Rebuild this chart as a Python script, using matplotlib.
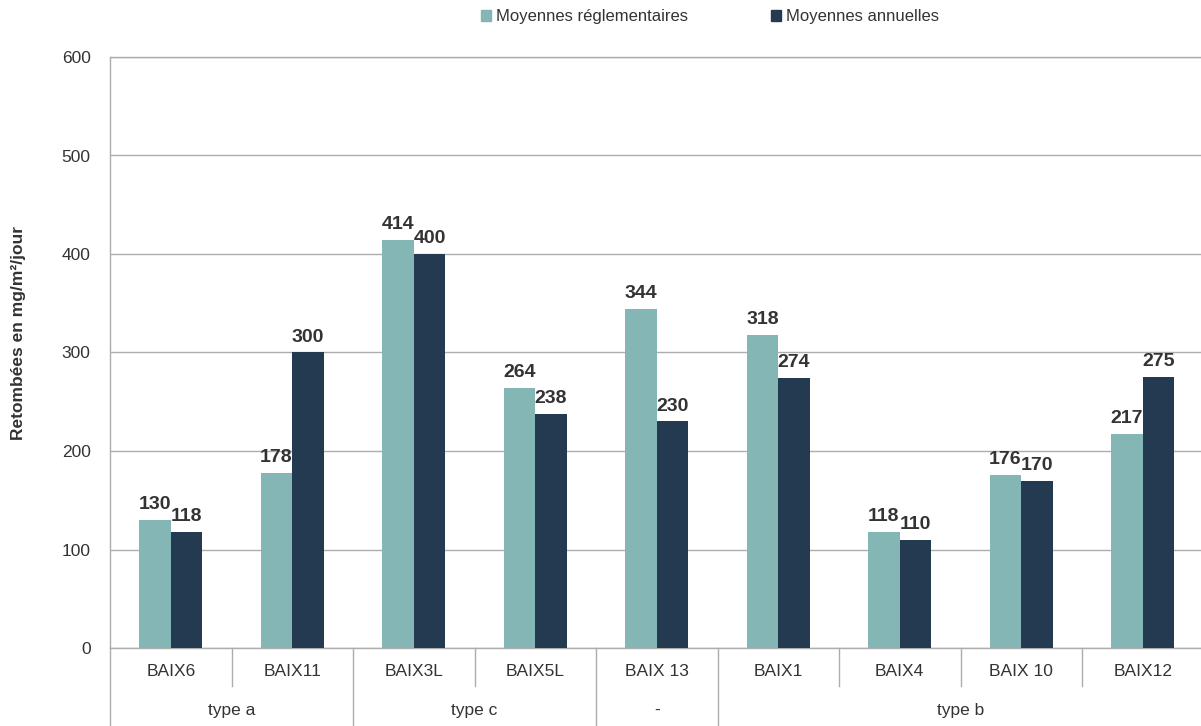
import matplotlib
matplotlib.use("Agg")
import matplotlib.pyplot as plt
import numpy as np
from matplotlib.patches import Patch

stations = ["BAIX6", "BAIX11", "BAIX3L", "BAIX5L", "BAIX 13", "BAIX1", "BAIX4", "BAIX 10", "BAIX12"]
groups = ["type a", "type c", "-", "type b"]
group_sizes = [2, 2, 1, 4]
moy_reg = [130, 178, 414, 264, 344, 318, 118, 176, 217]
moy_ann = [118, 300, 400, 238, 230, 274, 110, 170, 275]
series_names = ["Moyennes réglementaires", "Moyennes annuelles"]
yticks = [0, 100, 200, 300, 400, 500, 600]

c_reg = "#84B6B6"
c_ann = "#243A50"
grid_c = "#ADADAD"
txt_c = "#333333"

plt.rcParams['font.family'] = ['Liberation Sans', 'DejaVu Sans']

fig = plt.figure(figsize=(12.01, 7.26), dpi=100)
ax = fig.add_axes([110/1201, 1-648/726, 1093.5/1201, 591/726])

x = np.arange(len(stations))
w = 0.26
b1 = ax.bar(x - w/2, moy_reg, w, color=c_reg, label=series_names[0], zorder=3)
b2 = ax.bar(x + w/2, moy_ann, w, color=c_ann, label=series_names[1], zorder=3)

for bars, vals in ((b1, moy_reg), (b2, moy_ann)):
    for r, v in zip(bars, vals):
        ax.annotate(str(v), (r.get_x() + r.get_width()/2, v), xytext=(0, 5),
                    textcoords="offset points", ha="center", va="bottom",
                    fontsize=14, fontweight="bold", color=txt_c)

ax.set_xlim(-0.5, len(stations) - 0.5)
ax.set_ylim(0, 600)
ax.set_yticks(yticks)
ax.set_yticklabels([str(t) for t in yticks], fontsize=12.5, color=txt_c)
ax.tick_params(axis='y', length=0, pad=14)
ax.set_xticks([])
ax.yaxis.grid(True, color=grid_c, linewidth=1, zorder=0)
ax.spines["right"].set_visible(False)
for s in ["left", "top", "bottom"]:
    ax.spines[s].set_color(grid_c)
    ax.spines[s].set_linewidth(1)

ax.set_ylabel("Retombées en mg/m²/jour", fontsize=12.5, fontweight="bold", color=txt_c)
ax.yaxis.set_label_coords((26 - 110) / 1093.5, (648 - 333) / 591)

trans = ax.get_xaxis_transform()
y_inner = -38/591
y_full = -80/591
for i, name in enumerate(stations):
    ax.text(i, -24/591, name, transform=trans, ha="center", va="center", fontsize=12.5, color=txt_c)

ax.plot([-0.5, -0.5], [0, y_full], transform=trans, color=grid_c, lw=1, clip_on=False)
start = 0
for g, n in zip(groups, group_sizes):
    end = start + n
    ax.text((start + end - 1)/2, -62/591, g, transform=trans, ha="center", va="center", fontsize=12.5, color=txt_c)
    for k in range(start + 1, end):
        ax.plot([k - 0.5, k - 0.5], [0, y_inner], transform=trans, color=grid_c, lw=1, clip_on=False)
    ax.plot([end - 0.5, end - 0.5], [0, y_full], transform=trans, color=grid_c, lw=1, clip_on=False)
    start = end

handles = [Patch(color=c_reg), Patch(color=c_ann)]
fig.legend(handles, series_names, loc="center", bbox_to_anchor=(710/1201, 1-17/726), ncol=2,
           frameon=False, handlelength=0.6, handleheight=0.6, handletextpad=0.3,
           columnspacing=5.0, fontsize=12, labelcolor=txt_c)

fig.savefig("out.png", dpi=100)
